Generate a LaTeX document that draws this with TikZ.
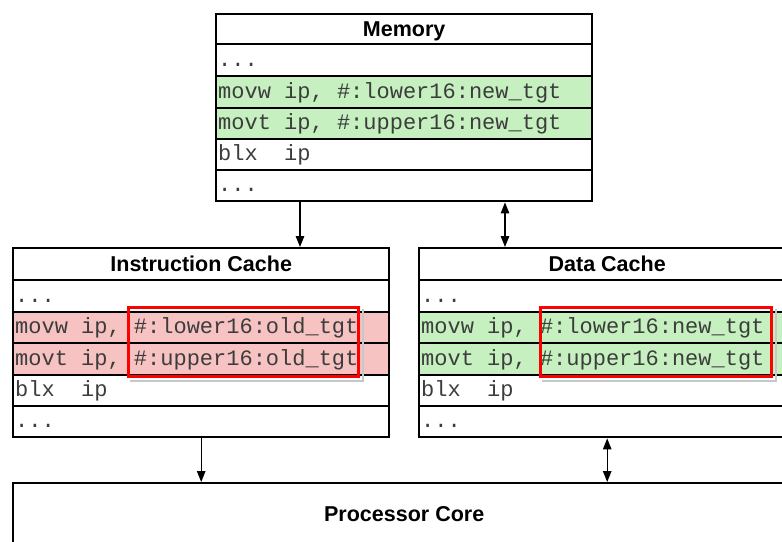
\documentclass[tikz,border=0pt]{standalone}
\usepackage{fontspec}
\setmainfont{Liberation Sans}
\newfontfamily\codefont{Liberation Mono}
\usetikzlibrary{arrows.meta}
\definecolor{rowgreen}{RGB}{198,240,192}
\definecolor{rowred}{RGB}{246,194,194}
\definecolor{codegray}{RGB}{60,60,60}
\begin{document}
\begin{tikzpicture}[x=1pt,y=-1pt,
  rowbox/.style={draw=black, line width=2.4pt, anchor=north west, inner sep=0pt,
    minimum width=376pt, minimum height=#1},
  hdr/.style={font=\fontsize{21.5}{24}\selectfont\bfseries, text height=15.4pt, text depth=0pt},
  code/.style={anchor=base west, inner sep=0pt, font=\codefont\fontsize{22}{24}\selectfont, text=codegray},
  hl/.style={draw=red, line width=3pt, anchor=north west, inner sep=0pt},
  shade/.style={draw=black!22, line width=2.5pt},
  tip/.tip={Triangle[length=11pt,width=8.5pt]},
  arr/.style={-tip, line width=1.2pt},
  darr/.style={tip-tip, line width=1.2pt}
]
\useasboundingbox (0,0) rectangle (782,541);
\fill[white] (0,0) rectangle (782,541);

% Memory
\node[rowbox=30pt, hdr] (mh) at (215,13) {Memory};
\node[rowbox=32pt] (m1) at (215,43) {};
\node[rowbox=32pt, fill=rowgreen] (m2) at (215,75) {};
\node[rowbox=31pt, fill=rowgreen] (m3) at (215,107) {};
\node[rowbox=31pt] (m4) at (215,138) {};
\node[rowbox=31pt] (m5) at (215,169) {};
\node[code] (mt1) at ([xshift=3pt,yshift=-6pt]m1.west) {...};
\node[code] (mt2) at ([xshift=3pt,yshift=-6pt]m2.west) {movw ip, \#:lower16:new\_tgt};
\node[code] (mt3) at ([xshift=3pt,yshift=-6pt]m3.west) {movt ip, \#:upper16:new\_tgt};
\node[code] (mt4) at ([xshift=3pt,yshift=-6pt]m4.west) {blx\ \ ip};
\node[code] (mt5) at ([xshift=3pt,yshift=-6pt]m5.west) {...};

% Instruction cache
\node[rowbox=32pt, hdr] (ih) at (12,247) {Instruction Cache};
\node[rowbox=32pt] (i1) at (12,279) {};
\node[rowbox=31pt, fill=rowred] (i2) at (12,311) {};
\node[rowbox=32pt, fill=rowred] (i3) at (12,342) {};
\node[rowbox=31pt] (i4) at (12,374) {};
\node[rowbox=31pt] (i5) at (12,405) {};
\node[code] (it1) at ([xshift=3pt,yshift=-6pt]i1.west) {...};
\node[code] (it2) at ([xshift=3pt,yshift=-6pt]i2.west) {movw ip, \#:lower16:old\_tgt};
\node[code] (it3) at ([xshift=3pt,yshift=-6pt]i3.west) {movt ip, \#:upper16:old\_tgt};
\node[code] (it4) at ([xshift=3pt,yshift=-6pt]i4.west) {blx\ \ ip};
\node[code] (it5) at ([xshift=3pt,yshift=-6pt]i5.west) {...};
\node[hl, minimum width=230pt, minimum height=69pt] (ihl) at (127,306) {};
\draw[shade] ([shift={(3pt,-3pt)}]ihl.north east) -- ([shift={(3pt,-3pt)}]ihl.south east) -- ([shift={(3pt,-3pt)}]ihl.south west);

% Data cache
\node[rowbox=32pt, hdr] (dh) at (418,247) {Data Cache};
\node[rowbox=32pt] (d1) at (418,279) {};
\node[rowbox=31pt, fill=rowgreen] (d2) at (418,311) {};
\node[rowbox=32pt, fill=rowgreen] (d3) at (418,342) {};
\node[rowbox=31pt] (d4) at (418,374) {};
\node[rowbox=31pt] (d5) at (418,405) {};
\node[code] (dt1) at ([xshift=3pt,yshift=-6pt]d1.west) {...};
\node[code] (dt2) at ([xshift=3pt,yshift=-6pt]d2.west) {movw ip, \#:lower16:new\_tgt};
\node[code] (dt3) at ([xshift=3pt,yshift=-6pt]d3.west) {movt ip, \#:upper16:new\_tgt};
\node[code] (dt4) at ([xshift=3pt,yshift=-6pt]d4.west) {blx\ \ ip};
\node[code] (dt5) at ([xshift=3pt,yshift=-6pt]d5.west) {...};
\node[hl, minimum width=231pt, minimum height=69pt] (dhl) at (539,306) {};
\draw[shade] ([shift={(3pt,-3pt)}]dhl.north east) -- ([shift={(3pt,-3pt)}]dhl.south east) -- ([shift={(3pt,-3pt)}]dhl.south west);

% Processor core
\node[rowbox=62pt, minimum width=782pt, hdr] (core) at (12,482) {Processor Core};

% Connectors
\draw[arr] ([xshift=85pt]m5.south west) -- ([xshift=288pt]ih.north west);
\draw[darr] ([xshift=290pt]m5.south west) -- ([xshift=87pt]dh.north west);
\draw[arr] (i5.south) -- (i5.south |- core.north);
\draw[darr] (d5.south) -- (d5.south |- core.north);
\end{tikzpicture}
\end{document}
